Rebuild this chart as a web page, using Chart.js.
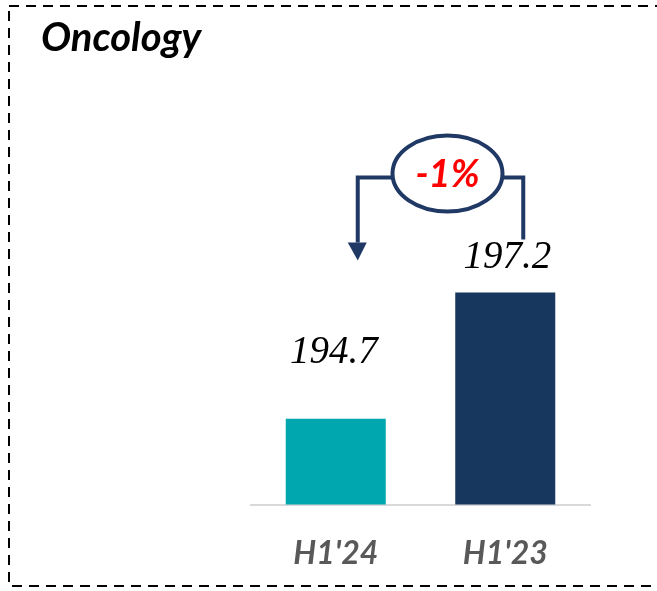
<!DOCTYPE html>
<html>
<head>
<meta charset="utf-8">
<script src="https://cdn.jsdelivr.net/npm/chart.js@4.4.1/dist/chart.umd.min.js"></script>
<style>
  body { margin: 0; background: #fff; }
  #wrap { width: 657px; height: 591px; }
</style>
</head>
<body>
<div id="wrap"><canvas id="barChart"></canvas></div>
<script>
// Oncology revenue, H1'24 vs H1'23
const periods = ["H1'24", "H1'23"];
const revenue = [194.7, 197.2];
const barColors = ["#00A7AE", "#17375E"];
const labelLift = [66, 35]; // how far each value label sits above its bar

const navy = "#1F3864";

// dashed frame, title, value labels and the change bracket
const decorations = {
  id: "decorations",
  afterDraw(chart) {
    const ctx = chart.ctx;
    const bars = chart.getDatasetMeta(0).data;
    ctx.save();

    // frame
    ctx.strokeStyle = "#000";
    ctx.lineWidth = 2;
    ctx.setLineDash([10, 7]);
    ctx.strokeRect(9, 6, 660, 580);
    ctx.setLineDash([]);

    // title
    ctx.fillStyle = "#000";
    ctx.font = "italic bold 40px Lato";
    ctx.textBaseline = "alphabetic";
    ctx.textAlign = "left";
    ctx.fillText("Oncology", 41, 51);

    // value labels
    ctx.font = "italic 39px 'Liberation Serif'";
    ctx.textAlign = "center";
    ctx.textBaseline = "middle";
    bars.forEach((bar, i) => {
      ctx.fillText(revenue[i].toFixed(1), bar.x - 2 + i * 4, bar.y - labelLift[i]);
    });

    // bracket with arrow
    const leftX = bars[0].x + 22;
    const rightX = bars[1].x + 18;
    const topY = bars[1].y - 115;
    const cx = (leftX + rightX) / 2 + 7;
    const rx = 55, ry = 38;
    ctx.strokeStyle = navy;
    ctx.fillStyle = navy;
    ctx.lineWidth = 4;
    ctx.beginPath();
    ctx.moveTo(cx - rx, topY);
    ctx.lineTo(leftX, topY);
    ctx.lineTo(leftX, bars[1].y - 50);
    ctx.stroke();
    ctx.beginPath();
    ctx.moveTo(leftX - 10, bars[1].y - 50);
    ctx.lineTo(leftX + 9, bars[1].y - 50);
    ctx.lineTo(leftX, bars[1].y - 32);
    ctx.closePath();
    ctx.fill();
    ctx.beginPath();
    ctx.moveTo(cx + rx, topY);
    ctx.lineTo(rightX, topY);
    ctx.lineTo(rightX, bars[1].y - 53);
    ctx.stroke();

    ctx.beginPath();
    ctx.ellipse(cx, topY - 4, rx, ry, 0, 0, Math.PI * 2);
    ctx.fillStyle = "#fff";
    ctx.fill();
    ctx.stroke();

    const change = Math.round((revenue[0] / revenue[1] - 1) * 100);
    ctx.fillStyle = "#FF0000";
    ctx.font = "italic bold 38px Lato";
    ctx.fillText(change + "%", cx, topY - 3);

    ctx.restore();
  },
};

const ctxBar = document.getElementById("barChart").getContext("2d");
new Chart(ctxBar, {
  type: "bar",
  data: {
    labels: periods,
    datasets: [
      {
        data: revenue,
        backgroundColor: barColors,
        barPercentage: 0.59,
        categoryPercentage: 1,
      },
    ],
  },
  options: {
    responsive: true,
    maintainAspectRatio: false,
    animation: false,
    layout: {
      padding: { left: 251, right: 67, top: 151, bottom: -4 },
    },
    plugins: {
      legend: { display: false },
      tooltip: { enabled: false },
    },
    scales: {
      x: {
        grid: { display: false },
        border: { color: "#D9D9D9", width: 2 },
        ticks: {
          color: "#595959",
          padding: 22,
          font: { family: "Lato", size: 32, style: "italic", weight: "bold" },
        },
      },
      y: {
        display: false,
        min: 193,
        max: 200,
      },
    },
  },
  plugins: [decorations],
});
</script>
</body>
</html>
